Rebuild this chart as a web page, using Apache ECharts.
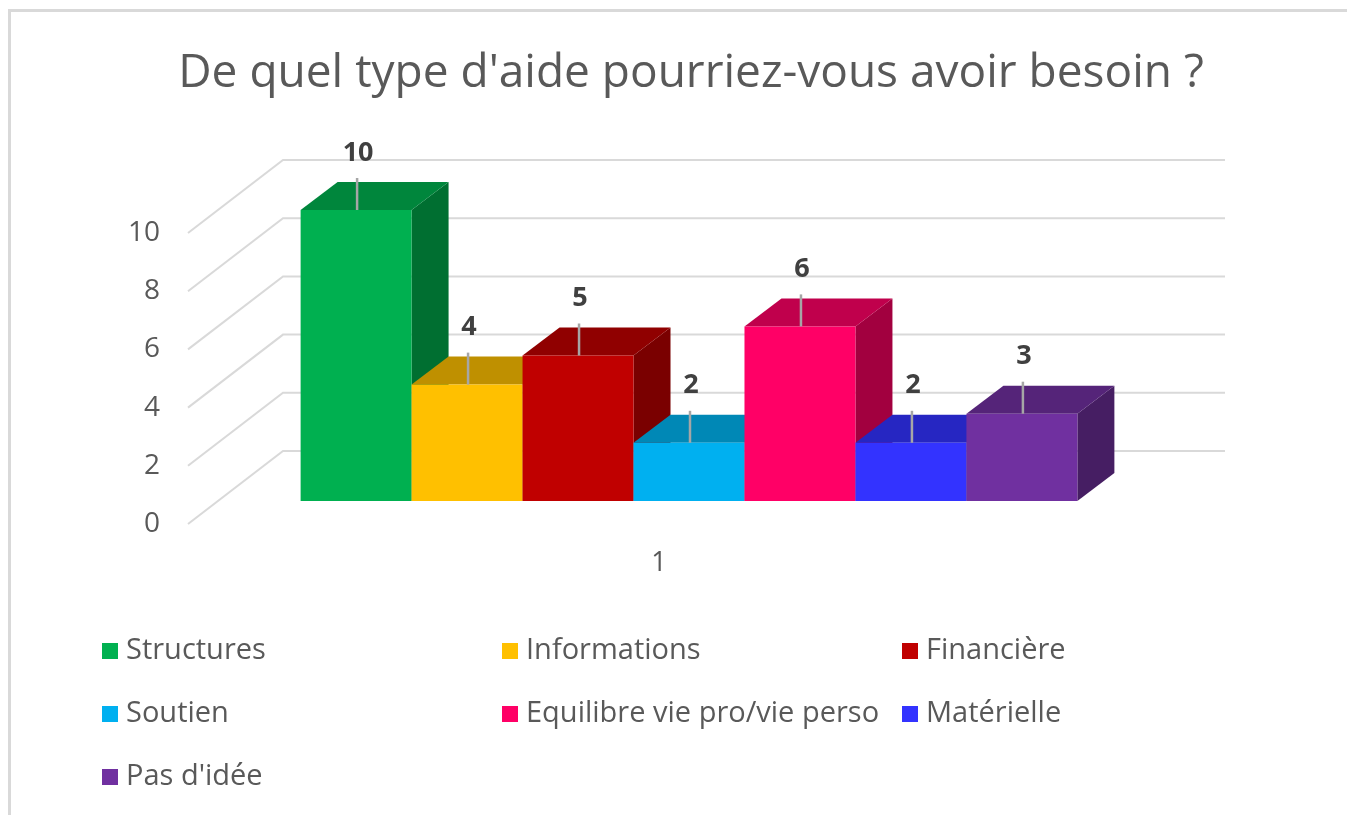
<!DOCTYPE html>
<html>
<head>
<meta charset="utf-8">
<script src="https://cdn.jsdelivr.net/npm/echarts@6/dist/echarts.min.js"></script>
<style>
  html, body { margin: 0; padding: 0; background: #fff; overflow: hidden; }
  #chart { width: 1347px; height: 815px; }
</style>
</head>
<body>
<div id="chart"></div>
<script>
// data
const categories = ['Structures', 'Informations', 'Financière', 'Soutien', 'Equilibre vie pro/vie perso', 'Matérielle', "Pas d'idée"];
const values = [10, 4, 5, 2, 6, 2, 3];
const xLabels = ['1'];
const yTicks = [0, 2, 4, 6, 8, 10];

// colours: front / top / side faces
const frontColors = ['#00B050', '#FFC000', '#C00000', '#00B0F0', '#FF0066', '#3333FF', '#7030A0'];
const topColors = ['#00863C', '#BF9000', '#900000', '#0088B6', '#C0004C', '#2626C2', '#552479'];
const sideColors = ['#006F31', '#9C7600', '#7A0000', '#006E96', '#A2003F', '#1C1C9C', '#461E63'];

// fake 3d geometry (pixels)
const DEPTH = [37, -28];       // bar depth
const WALL = [65, -50];        // back wall relative to bar front plane
const FLOOR = [-30, 23];       // front edge of floor
const BAR_FRAC = 0.1178;       // bar width as share of the band

const FONT = "'Open Sans', sans-serif";
const GREY = '#595959';

const chart = echarts.init(document.getElementById('chart'));

function renderGrid(params, api) {
    const cs = params.coordSys;
    const children = [];
    yTicks.forEach(function (t) {
        const y = api.coord([0, t])[1];
        const fx = cs.x + FLOOR[0], fy = y + FLOOR[1];
        const bx = cs.x + WALL[0], by = y + WALL[1];
        const ex = cs.x + cs.width + WALL[0];
        children.push({
            type: 'polyline',
            shape: { points: [[fx, fy], [bx, by], [ex, by]] },
            style: { stroke: '#d9d9d9', lineWidth: 2, fill: null }
        });
        children.push({
            type: 'text', x: fx - 28, y: fy,
            style: { text: String(t), align: 'right', verticalAlign: 'middle', font: '28px ' + FONT, fill: GREY }
        });
    });
    return { type: 'group', children: children };
}

function renderBar(i) {
    return function (params, api) {
        const base = api.coord([0, 0]);
        const top = api.coord([0, api.value(1)]);
        const w = api.size([1, 0])[0] * BAR_FRAC;
        const x0 = base[0] - w * categories.length / 2 + i * w;
        const x1 = x0 + w;
        const yb = base[1], yt = top[1];
        const dx = DEPTH[0], dy = DEPTH[1];
        const cx = (x0 + x1) / 2;
        return {
            type: 'group',
            children: [
                { type: 'polygon', z2: 10 * i + 1,
                  shape: { points: [[x1, yb], [x1 + dx, yb + dy], [x1 + dx, yt + dy], [x1, yt]] },
                  style: { fill: sideColors[i] } },
                { type: 'polygon', z2: 10 * i + 2,
                  shape: { points: [[x0, yt], [x0 + dx, yt + dy], [x1 + dx, yt + dy], [x1, yt]] },
                  style: { fill: topColors[i] } },
                { type: 'rect', z2: 10 * i + 3,
                  shape: { x: x0, y: yt, width: w, height: yb - yt },
                  style: { fill: frontColors[i] } },
                { type: 'line', z2: 200,
                  shape: { x1: cx + 1, y1: yt, x2: cx + 1, y2: yt - 32 },
                  style: { stroke: '#a6a6a6', lineWidth: 2.5 } },
                { type: 'text', z2: 201, x: cx + 2, y: yt - 57,
                  style: { text: String(api.value(1)), align: 'center', verticalAlign: 'middle',
                           font: 'bold 27px ' + FONT, fill: '#404040' } }
            ]
        };
    };
}

const series = [{
    type: 'custom', name: 'grid', silent: true, z: 1,
    renderItem: renderGrid, data: [[0, 0]]
}];
categories.forEach(function (name, i) {
    series.push({
        type: 'custom', name: name, z: 2,
        itemStyle: { color: frontColors[i] },
        renderItem: renderBar(i),
        data: [[0, values[i]]]
    });
});

const legendBase = {
    orient: 'vertical', top: 630, itemWidth: 16, itemHeight: 16, itemGap: 31,
    icon: 'rect',
    textStyle: { fontFamily: FONT, fontSize: 29, color: GREY, lineHeight: 32, padding: [0, 0, 0, 3] }
};

chart.setOption({
    animation: false,
    backgroundColor: '#fff',
    title: {
        text: "De quel type d'aide pourriez-vous avoir besoin ?",
        left: 686, top: 46, textAlign: 'center',
        textStyle: { fontFamily: FONT, fontSize: 46, fontWeight: 'normal', color: GREY }
    },
    graphic: [{
        type: 'polyline', silent: true,
        shape: { points: [[9.5, 900], [9.5, 10.5], [1400, 10.5]] },
        style: { fill: null, stroke: '#d9d9d9', lineWidth: 3 }
    }],
    legend: [
        Object.assign({}, legendBase, { left: 97, data: [categories[0], categories[3], categories[6]] }),
        Object.assign({}, legendBase, { left: 497, data: [categories[1], categories[4]] }),
        Object.assign({}, legendBase, { left: 897, data: [categories[2], categories[5]] })
    ],
    grid: { left: 218, right: 187, top: 210, bottom: 314 },
    xAxis: {
        type: 'category', data: xLabels,
        axisLine: { show: false }, axisTick: { show: false }, splitLine: { show: false },
        axisLabel: { margin: 49, padding: [0, 60, 0, 0], fontFamily: FONT, fontSize: 27, color: GREY }
    },
    yAxis: {
        type: 'value', min: 0, max: 10, interval: 2,
        axisLine: { show: false }, axisTick: { show: false }, axisLabel: { show: false },
        splitLine: { show: false }
    },
    series: series
});
</script>
</body>
</html>
